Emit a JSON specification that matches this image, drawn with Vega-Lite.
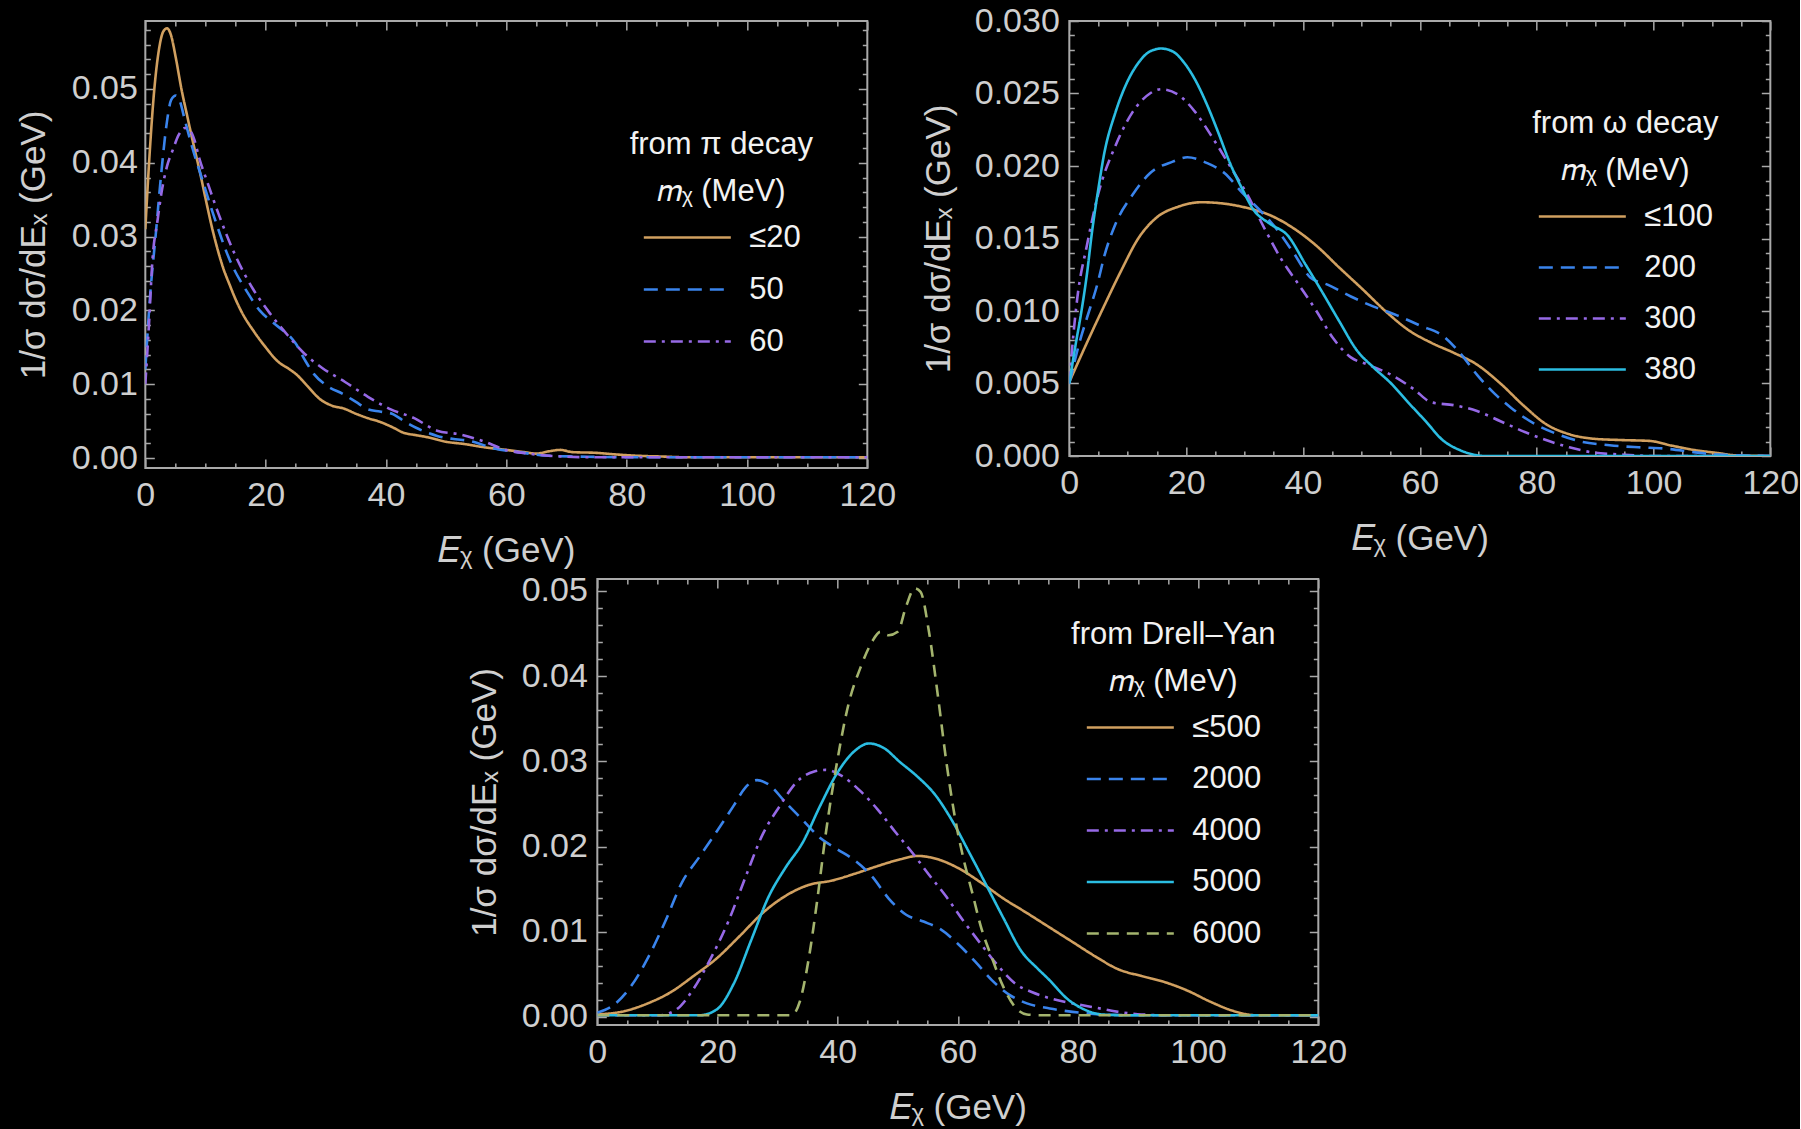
{
  "$schema": "https://vega.github.io/schema/vega-lite/v6.json",
  "background": "black",
  "padding": {"left": 15, "top": 3, "right": 0, "bottom": 12},
  "datasets": {
    "pi": [
      {"E":0,"v":0.031,"m":"≤20"},{"E":0.7,"v":0.041,"m":"≤20"},{"E":1.5,"v":0.05,"m":"≤20"},{"E":2.3,"v":0.0555,"m":"≤20"},{"E":3,"v":0.0578,"m":"≤20"},{"E":3.6,"v":0.0582,"m":"≤20"},{"E":4.3,"v":0.0572,"m":"≤20"},{"E":5,"v":0.0545,"m":"≤20"},{"E":6,"v":0.05,"m":"≤20"},{"E":7,"v":0.0462,"m":"≤20"},{"E":8,"v":0.0425,"m":"≤20"},{"E":9,"v":0.039,"m":"≤20"},{"E":10,"v":0.0352,"m":"≤20"},{"E":11,"v":0.0315,"m":"≤20"},{"E":12,"v":0.0283,"m":"≤20"},{"E":13,"v":0.0256,"m":"≤20"},{"E":14,"v":0.0235,"m":"≤20"},{"E":15,"v":0.0215,"m":"≤20"},{"E":16,"v":0.0198,"m":"≤20"},{"E":18,"v":0.0172,"m":"≤20"},{"E":20,"v":0.015,"m":"≤20"},{"E":22,"v":0.0131,"m":"≤20"},{"E":24,"v":0.012,"m":"≤20"},{"E":25,"v":0.0114,"m":"≤20"},{"E":27,"v":0.0097,"m":"≤20"},{"E":29,"v":0.008,"m":"≤20"},{"E":31,"v":0.0071,"m":"≤20"},{"E":33,"v":0.0067,"m":"≤20"},{"E":35,"v":0.006,"m":"≤20"},{"E":37,"v":0.0054,"m":"≤20"},{"E":39,"v":0.0049,"m":"≤20"},{"E":41,"v":0.0042,"m":"≤20"},{"E":43,"v":0.0034,"m":"≤20"},{"E":45,"v":0.0031,"m":"≤20"},{"E":47,"v":0.0028,"m":"≤20"},{"E":50,"v":0.0022,"m":"≤20"},{"E":53,"v":0.0019,"m":"≤20"},{"E":56,"v":0.0015,"m":"≤20"},{"E":60,"v":0.0011,"m":"≤20"},{"E":63,"v":0.0008,"m":"≤20"},{"E":65,"v":0.0006,"m":"≤20"},{"E":67,"v":0.0009,"m":"≤20"},{"E":69,"v":0.0011,"m":"≤20"},{"E":71,"v":0.0008,"m":"≤20"},{"E":75,"v":0.0007,"m":"≤20"},{"E":78,"v":0.0005,"m":"≤20"},{"E":82,"v":0.0003,"m":"≤20"},{"E":86,"v":0.0002,"m":"≤20"},{"E":90,"v":0.0001,"m":"≤20"},{"E":100,"v":0.0001,"m":"≤20"},{"E":120,"v":0.0001,"m":"≤20"},
      {"E":0,"v":0.012,"m":"50"},{"E":0.8,"v":0.022,"m":"50"},{"E":1.7,"v":0.03,"m":"50"},{"E":2.7,"v":0.039,"m":"50"},{"E":3.5,"v":0.045,"m":"50"},{"E":4.3,"v":0.0485,"m":"50"},{"E":5.1,"v":0.0491,"m":"50"},{"E":5.8,"v":0.0482,"m":"50"},{"E":6.5,"v":0.046,"m":"50"},{"E":7.9,"v":0.0418,"m":"50"},{"E":9.4,"v":0.0379,"m":"50"},{"E":11.3,"v":0.033,"m":"50"},{"E":14.1,"v":0.0267,"m":"50"},{"E":17,"v":0.0224,"m":"50"},{"E":19,"v":0.02,"m":"50"},{"E":21,"v":0.0185,"m":"50"},{"E":23,"v":0.0172,"m":"50"},{"E":24,"v":0.0165,"m":"50"},{"E":25,"v":0.0155,"m":"50"},{"E":26.5,"v":0.0133,"m":"50"},{"E":28,"v":0.0114,"m":"50"},{"E":30,"v":0.0099,"m":"50"},{"E":33,"v":0.0086,"m":"50"},{"E":35,"v":0.0076,"m":"50"},{"E":37,"v":0.0066,"m":"50"},{"E":39,"v":0.0063,"m":"50"},{"E":41,"v":0.006,"m":"50"},{"E":43,"v":0.005,"m":"50"},{"E":45,"v":0.0041,"m":"50"},{"E":48.5,"v":0.003,"m":"50"},{"E":51,"v":0.0026,"m":"50"},{"E":54,"v":0.0023,"m":"50"},{"E":58,"v":0.0013,"m":"50"},{"E":62,"v":0.0008,"m":"50"},{"E":67,"v":0.0003,"m":"50"},{"E":72,"v":0.0002,"m":"50"},{"E":80,"v":0.0001,"m":"50"},{"E":120,"v":0.0001,"m":"50"},
      {"E":0,"v":0.01,"m":"60"},{"E":0.6,"v":0.018,"m":"60"},{"E":1.2,"v":0.027,"m":"60"},{"E":2,"v":0.032,"m":"60"},{"E":2.7,"v":0.036,"m":"60"},{"E":3.6,"v":0.0395,"m":"60"},{"E":4.6,"v":0.0418,"m":"60"},{"E":5.5,"v":0.0437,"m":"60"},{"E":6.5,"v":0.0447,"m":"60"},{"E":7.4,"v":0.0444,"m":"60"},{"E":8.2,"v":0.043,"m":"60"},{"E":8.9,"v":0.0408,"m":"60"},{"E":10.3,"v":0.0374,"m":"60"},{"E":12.2,"v":0.033,"m":"60"},{"E":15.1,"v":0.0272,"m":"60"},{"E":17.9,"v":0.0229,"m":"60"},{"E":20.8,"v":0.0195,"m":"60"},{"E":23.7,"v":0.0166,"m":"60"},{"E":26.5,"v":0.0141,"m":"60"},{"E":29.4,"v":0.0122,"m":"60"},{"E":33.2,"v":0.0103,"m":"60"},{"E":37,"v":0.0083,"m":"60"},{"E":40.8,"v":0.0066,"m":"60"},{"E":44.7,"v":0.0054,"m":"60"},{"E":48.5,"v":0.0037,"m":"60"},{"E":52.3,"v":0.0032,"m":"60"},{"E":56.1,"v":0.0023,"m":"60"},{"E":59.9,"v":0.0011,"m":"60"},{"E":63.7,"v":0.0006,"m":"60"},{"E":69.5,"v":0.0002,"m":"60"},{"E":75,"v":0.0001,"m":"60"},{"E":120,"v":0.0001,"m":"60"}
    ],
    "omega": [
      {"E":0,"v":0.0051,"m":"≤100"},{"E":3,"v":0.0078,"m":"≤100"},{"E":5.9,"v":0.0103,"m":"≤100"},{"E":8.9,"v":0.0128,"m":"≤100"},{"E":11.8,"v":0.015,"m":"≤100"},{"E":14.8,"v":0.0164,"m":"≤100"},{"E":18.7,"v":0.0172,"m":"≤100"},{"E":22.6,"v":0.0175,"m":"≤100"},{"E":26.6,"v":0.0174,"m":"≤100"},{"E":30.5,"v":0.0171,"m":"≤100"},{"E":34.4,"v":0.0166,"m":"≤100"},{"E":38.4,"v":0.0157,"m":"≤100"},{"E":42.3,"v":0.0145,"m":"≤100"},{"E":46.2,"v":0.013,"m":"≤100"},{"E":50.2,"v":0.0115,"m":"≤100"},{"E":54.1,"v":0.01,"m":"≤100"},{"E":58,"v":0.0087,"m":"≤100"},{"E":62,"v":0.0078,"m":"≤100"},{"E":65.9,"v":0.0071,"m":"≤100"},{"E":69.8,"v":0.0063,"m":"≤100"},{"E":73.8,"v":0.005,"m":"≤100"},{"E":77.7,"v":0.0035,"m":"≤100"},{"E":81.6,"v":0.0022,"m":"≤100"},{"E":85.6,"v":0.0015,"m":"≤100"},{"E":89.5,"v":0.0012,"m":"≤100"},{"E":94.4,"v":0.0011,"m":"≤100"},{"E":99.3,"v":0.00104,"m":"≤100"},{"E":103.3,"v":0.0007,"m":"≤100"},{"E":107.2,"v":0.0004,"m":"≤100"},{"E":111.1,"v":0.0002,"m":"≤100"},{"E":114,"v":0.00005,"m":"≤100"},{"E":120,"v":0,"m":"≤100"},
      {"E":0,"v":0.005,"m":"200"},{"E":2,"v":0.0082,"m":"200"},{"E":3,"v":0.0095,"m":"200"},{"E":4.9,"v":0.012,"m":"200"},{"E":6,"v":0.0138,"m":"200"},{"E":7.9,"v":0.016,"m":"200"},{"E":10.8,"v":0.018,"m":"200"},{"E":13.8,"v":0.0195,"m":"200"},{"E":17.7,"v":0.0203,"m":"200"},{"E":20.2,"v":0.0206,"m":"200"},{"E":23.6,"v":0.0202,"m":"200"},{"E":26.6,"v":0.0195,"m":"200"},{"E":29.5,"v":0.0182,"m":"200"},{"E":32.5,"v":0.017,"m":"200"},{"E":35.4,"v":0.0157,"m":"200"},{"E":38.4,"v":0.014,"m":"200"},{"E":41.3,"v":0.0123,"m":"200"},{"E":44.3,"v":0.0118,"m":"200"},{"E":48.2,"v":0.011,"m":"200"},{"E":52.1,"v":0.0103,"m":"200"},{"E":56.1,"v":0.0097,"m":"200"},{"E":60,"v":0.009,"m":"200"},{"E":63.9,"v":0.0083,"m":"200"},{"E":66.9,"v":0.0071,"m":"200"},{"E":69.8,"v":0.0056,"m":"200"},{"E":72.8,"v":0.0043,"m":"200"},{"E":75.7,"v":0.0033,"m":"200"},{"E":79.7,"v":0.0022,"m":"200"},{"E":83.6,"v":0.0015,"m":"200"},{"E":87.5,"v":0.001,"m":"200"},{"E":92.5,"v":0.00074,"m":"200"},{"E":97.4,"v":0.0006,"m":"200"},{"E":102.3,"v":0.0005,"m":"200"},{"E":107.2,"v":0.00025,"m":"200"},{"E":111,"v":0.0001,"m":"200"},{"E":120,"v":0,"m":"200"},
      {"E":0,"v":0.005,"m":"300"},{"E":0.5,"v":0.0075,"m":"300"},{"E":1.4,"v":0.011,"m":"300"},{"E":3,"v":0.0145,"m":"300"},{"E":4.9,"v":0.018,"m":"300"},{"E":7.9,"v":0.0214,"m":"300"},{"E":10.8,"v":0.0237,"m":"300"},{"E":13.8,"v":0.025,"m":"300"},{"E":15.7,"v":0.0253,"m":"300"},{"E":18.7,"v":0.0249,"m":"300"},{"E":21.6,"v":0.0237,"m":"300"},{"E":24.6,"v":0.0219,"m":"300"},{"E":27.5,"v":0.02,"m":"300"},{"E":30.5,"v":0.018,"m":"300"},{"E":33.4,"v":0.0157,"m":"300"},{"E":36.4,"v":0.0135,"m":"300"},{"E":39.3,"v":0.0118,"m":"300"},{"E":42.3,"v":0.01,"m":"300"},{"E":45.2,"v":0.0081,"m":"300"},{"E":48.2,"v":0.0068,"m":"300"},{"E":51.1,"v":0.0063,"m":"300"},{"E":55.1,"v":0.0056,"m":"300"},{"E":59,"v":0.0046,"m":"300"},{"E":62,"v":0.0037,"m":"300"},{"E":65.9,"v":0.0035,"m":"300"},{"E":69.8,"v":0.0031,"m":"300"},{"E":73.8,"v":0.0024,"m":"300"},{"E":77.7,"v":0.0017,"m":"300"},{"E":81.6,"v":0.0011,"m":"300"},{"E":85.6,"v":0.0006,"m":"300"},{"E":89.5,"v":0.00025,"m":"300"},{"E":94.4,"v":0.0001,"m":"300"},{"E":100,"v":0,"m":"300"},{"E":120,"v":0,"m":"300"},
      {"E":0,"v":0.005,"m":"380"},{"E":1,"v":0.0075,"m":"380"},{"E":2,"v":0.0098,"m":"380"},{"E":3,"v":0.0125,"m":"380"},{"E":3.9,"v":0.0155,"m":"380"},{"E":5,"v":0.0185,"m":"380"},{"E":5.9,"v":0.0207,"m":"380"},{"E":7.9,"v":0.0237,"m":"380"},{"E":9.8,"v":0.0257,"m":"380"},{"E":11.8,"v":0.0271,"m":"380"},{"E":13.8,"v":0.0279,"m":"380"},{"E":15.7,"v":0.0281,"m":"380"},{"E":17.7,"v":0.0279,"m":"380"},{"E":19.7,"v":0.0271,"m":"380"},{"E":21.6,"v":0.0259,"m":"380"},{"E":23.6,"v":0.0242,"m":"380"},{"E":25.6,"v":0.0222,"m":"380"},{"E":27.5,"v":0.0202,"m":"380"},{"E":29.5,"v":0.0185,"m":"380"},{"E":31.5,"v":0.017,"m":"380"},{"E":34.4,"v":0.016,"m":"380"},{"E":37.4,"v":0.0152,"m":"380"},{"E":40.3,"v":0.0133,"m":"380"},{"E":43.3,"v":0.0113,"m":"380"},{"E":46.2,"v":0.0093,"m":"380"},{"E":49.2,"v":0.0073,"m":"380"},{"E":52.1,"v":0.0061,"m":"380"},{"E":55.1,"v":0.005,"m":"380"},{"E":58,"v":0.0037,"m":"380"},{"E":61,"v":0.0024,"m":"380"},{"E":63.9,"v":0.0011,"m":"380"},{"E":66.9,"v":0.0004,"m":"380"},{"E":69.8,"v":0.00005,"m":"380"},{"E":71,"v":0,"m":"380"},{"E":120,"v":0,"m":"380"}
    ],
    "dy": [
      {"E":0,"v":0.0003,"m":"≤500"},{"E":4.6,"v":0.0007,"m":"≤500"},{"E":8.4,"v":0.0016,"m":"≤500"},{"E":12.2,"v":0.0029,"m":"≤500"},{"E":16,"v":0.0048,"m":"≤500"},{"E":19.9,"v":0.0069,"m":"≤500"},{"E":23.7,"v":0.0095,"m":"≤500"},{"E":27.5,"v":0.0122,"m":"≤500"},{"E":31.3,"v":0.0142,"m":"≤500"},{"E":35.2,"v":0.0155,"m":"≤500"},{"E":39,"v":0.016,"m":"≤500"},{"E":42.8,"v":0.0168,"m":"≤500"},{"E":46.6,"v":0.0177,"m":"≤500"},{"E":50.4,"v":0.0185,"m":"≤500"},{"E":53.3,"v":0.0189,"m":"≤500"},{"E":56.2,"v":0.0186,"m":"≤500"},{"E":60,"v":0.0175,"m":"≤500"},{"E":63.8,"v":0.0158,"m":"≤500"},{"E":67.6,"v":0.0139,"m":"≤500"},{"E":71.5,"v":0.0122,"m":"≤500"},{"E":75.3,"v":0.0105,"m":"≤500"},{"E":79.1,"v":0.0088,"m":"≤500"},{"E":82.9,"v":0.0071,"m":"≤500"},{"E":86.7,"v":0.0056,"m":"≤500"},{"E":90.6,"v":0.0048,"m":"≤500"},{"E":94.4,"v":0.0041,"m":"≤500"},{"E":98.2,"v":0.0031,"m":"≤500"},{"E":102,"v":0.0018,"m":"≤500"},{"E":105.9,"v":0.0007,"m":"≤500"},{"E":109.7,"v":0.0002,"m":"≤500"},{"E":120,"v":0.0002,"m":"≤500"},
      {"E":0,"v":0.0005,"m":"2000"},{"E":2.7,"v":0.0014,"m":"2000"},{"E":5.5,"v":0.0035,"m":"2000"},{"E":8.4,"v":0.0069,"m":"2000"},{"E":11.3,"v":0.0112,"m":"2000"},{"E":14.1,"v":0.0158,"m":"2000"},{"E":17,"v":0.0188,"m":"2000"},{"E":19.9,"v":0.0218,"m":"2000"},{"E":22.7,"v":0.0248,"m":"2000"},{"E":24.6,"v":0.0269,"m":"2000"},{"E":26.6,"v":0.0278,"m":"2000"},{"E":28.5,"v":0.0273,"m":"2000"},{"E":31.3,"v":0.0252,"m":"2000"},{"E":34.2,"v":0.0231,"m":"2000"},{"E":37.1,"v":0.021,"m":"2000"},{"E":39.9,"v":0.0197,"m":"2000"},{"E":42.8,"v":0.0184,"m":"2000"},{"E":45.7,"v":0.0165,"m":"2000"},{"E":48.5,"v":0.0139,"m":"2000"},{"E":51.4,"v":0.012,"m":"2000"},{"E":54.3,"v":0.0112,"m":"2000"},{"E":57.1,"v":0.0103,"m":"2000"},{"E":60,"v":0.0086,"m":"2000"},{"E":62.9,"v":0.0065,"m":"2000"},{"E":65.7,"v":0.0043,"m":"2000"},{"E":68.6,"v":0.0026,"m":"2000"},{"E":71.5,"v":0.0016,"m":"2000"},{"E":75.3,"v":0.001,"m":"2000"},{"E":79.1,"v":0.0006,"m":"2000"},{"E":83.9,"v":0.0003,"m":"2000"},{"E":90,"v":0.0002,"m":"2000"},{"E":120,"v":0.0002,"m":"2000"},
      {"E":0,"v":0.0002,"m":"4000"},{"E":10.3,"v":0.0002,"m":"4000"},{"E":13.2,"v":0.0009,"m":"4000"},{"E":16,"v":0.0033,"m":"4000"},{"E":18.9,"v":0.0069,"m":"4000"},{"E":21.8,"v":0.0112,"m":"4000"},{"E":24.6,"v":0.0163,"m":"4000"},{"E":27.5,"v":0.0214,"m":"4000"},{"E":30.4,"v":0.0248,"m":"4000"},{"E":33.2,"v":0.0276,"m":"4000"},{"E":36.1,"v":0.0288,"m":"4000"},{"E":38,"v":0.029,"m":"4000"},{"E":40.9,"v":0.0282,"m":"4000"},{"E":43.8,"v":0.0265,"m":"4000"},{"E":46.6,"v":0.0244,"m":"4000"},{"E":49.5,"v":0.0218,"m":"4000"},{"E":52.4,"v":0.0193,"m":"4000"},{"E":55.2,"v":0.0167,"m":"4000"},{"E":58.1,"v":0.0141,"m":"4000"},{"E":61,"v":0.0112,"m":"4000"},{"E":63.8,"v":0.0086,"m":"4000"},{"E":66.7,"v":0.006,"m":"4000"},{"E":69.6,"v":0.0039,"m":"4000"},{"E":72.4,"v":0.0029,"m":"4000"},{"E":75.3,"v":0.0022,"m":"4000"},{"E":79.1,"v":0.0016,"m":"4000"},{"E":82.9,"v":0.0011,"m":"4000"},{"E":86.7,"v":0.0006,"m":"4000"},{"E":90.6,"v":0.0003,"m":"4000"},{"E":95,"v":0.0002,"m":"4000"},{"E":120,"v":0.0002,"m":"4000"},
      {"E":0,"v":0.0002,"m":"5000"},{"E":17,"v":0.0002,"m":"5000"},{"E":19.9,"v":0.0009,"m":"5000"},{"E":22.7,"v":0.0039,"m":"5000"},{"E":25.6,"v":0.009,"m":"5000"},{"E":28.5,"v":0.0141,"m":"5000"},{"E":31.3,"v":0.0175,"m":"5000"},{"E":34.2,"v":0.0205,"m":"5000"},{"E":37.1,"v":0.0248,"m":"5000"},{"E":39.9,"v":0.0286,"m":"5000"},{"E":42.8,"v":0.0312,"m":"5000"},{"E":45.2,"v":0.0321,"m":"5000"},{"E":47.6,"v":0.0316,"m":"5000"},{"E":50.4,"v":0.0299,"m":"5000"},{"E":53.3,"v":0.0282,"m":"5000"},{"E":56.2,"v":0.0261,"m":"5000"},{"E":59,"v":0.0231,"m":"5000"},{"E":61.9,"v":0.0193,"m":"5000"},{"E":64.8,"v":0.0154,"m":"5000"},{"E":67.6,"v":0.0116,"m":"5000"},{"E":70.5,"v":0.0078,"m":"5000"},{"E":73.4,"v":0.0056,"m":"5000"},{"E":75.3,"v":0.0043,"m":"5000"},{"E":78.1,"v":0.0022,"m":"5000"},{"E":81,"v":0.0009,"m":"5000"},{"E":83.9,"v":0.0003,"m":"5000"},{"E":88,"v":0.0002,"m":"5000"},{"E":120,"v":0.0002,"m":"5000"},
      {"E":0,"v":0.0002,"m":"6000"},{"E":32.3,"v":0.0002,"m":"6000"},{"E":33.7,"v":0.0018,"m":"6000"},{"E":35.2,"v":0.0069,"m":"6000"},{"E":36.6,"v":0.0137,"m":"6000"},{"E":38,"v":0.0214,"m":"6000"},{"E":39.9,"v":0.0299,"m":"6000"},{"E":41.8,"v":0.0367,"m":"6000"},{"E":43.8,"v":0.041,"m":"6000"},{"E":45.7,"v":0.044,"m":"6000"},{"E":47.1,"v":0.0452,"m":"6000"},{"E":48.5,"v":0.0448,"m":"6000"},{"E":50,"v":0.0452,"m":"6000"},{"E":51.4,"v":0.0482,"m":"6000"},{"E":52.8,"v":0.0503,"m":"6000"},{"E":53.8,"v":0.0499,"m":"6000"},{"E":55.2,"v":0.0452,"m":"6000"},{"E":56.7,"v":0.0376,"m":"6000"},{"E":58.1,"v":0.0299,"m":"6000"},{"E":59.5,"v":0.0235,"m":"6000"},{"E":61,"v":0.0184,"m":"6000"},{"E":62.4,"v":0.0146,"m":"6000"},{"E":63.8,"v":0.0107,"m":"6000"},{"E":65.7,"v":0.0069,"m":"6000"},{"E":67.6,"v":0.0035,"m":"6000"},{"E":69.6,"v":0.0011,"m":"6000"},{"E":71.5,"v":0.0003,"m":"6000"},{"E":74,"v":0.0002,"m":"6000"},{"E":120,"v":0.0002,"m":"6000"}
    ]
  },
  "vconcat": [
    {
      "hconcat": [
        {
          "width": 722, "height": 447,
          "data": {"name": "pi"},
          "layer": [
            {
              "mark": {"type": "line", "interpolate": "monotone", "strokeWidth": 2.6, "clip": true},
              "encoding": {
                "x": {"field": "E", "type": "quantitative", "scale": {"domain": [0, 120]},
                  "axis": {"orient": "bottom", "values": [0,5,10,15,20,25,30,35,40,45,50,55,60,65,70,75,80,85,90,95,100,105,110,115,120],
                    "labelExpr": "datum.value % 20 === 0 ? datum.label : ''",
                    "tickSize": {"condition": {"test": "datum.value % 20 === 0", "value": -9}, "value": -5},
                    "labelPadding": 19, "labelFlush": false, "title": "𝐸ᵪ (GeV)", "titlePadding": 17}},
                "y": {"field": "v", "type": "quantitative", "scale": {"domain": [-0.00135, 0.0592], "nice": false, "zero": false},
                  "axis": {"orient": "left", "values": [0,0.002,0.004,0.006,0.008,0.01,0.012,0.014,0.016,0.018,0.02,0.022,0.024,0.026,0.028,0.03,0.032,0.034,0.036,0.038,0.04,0.042,0.044,0.046,0.048,0.05,0.052,0.054,0.056,0.058],
                    "labelExpr": "abs(datum.value*100 - round(datum.value*100)) < 1e-6 ? format(datum.value, '.2f') : ''",
                    "tickSize": {"condition": {"test": "abs(datum.value*100 - round(datum.value*100)) < 1e-6", "value": -9}, "value": -5},
                    "labelPadding": 17, "title": "1/σ dσ/dEₓ (GeV)", "titlePadding": 20}},
                "color": {"field": "m", "type": "nominal", "scale": {"domain": ["≤20", "50", "60"], "range": ["#D1A060", "#3A84EC", "#9669E6"]},
                  "legend": {"orient": "none", "legendX": 484, "legendY": 109, "padding": 0,
                    "title": ["from π decay", "𝑚ᵪ (MeV)"], "titleFont": "Liberation Sans", "titleFontSize": 31, "titleFontWeight": "normal", "titleColor": "#f2f2f2", "titleLimit": 600,
                    "titleAnchor": "middle", "titleAlign": "center", "titleLineHeight": 46.5, "titlePadding": 14,
                    "labelFont": "Liberation Sans", "labelFontSize": 31, "labelColor": "#f2f2f2",
                    "symbolType": "M-1,0H5", "symbolSize": 841, "symbolStrokeWidth": 2.6, "labelOffset": 75, "rowPadding": 21}},
                "strokeDash": {"field": "m", "type": "nominal", "scale": {"domain": ["≤20", "50", "60"], "range": [[1, 0], [14, 8], [12, 6, 3, 6]]},
                  "legend": {"orient": "none", "legendX": 484, "legendY": 109, "padding": 0,
                    "title": ["from π decay", "𝑚ᵪ (MeV)"], "titleFont": "Liberation Sans", "titleFontSize": 31, "titleFontWeight": "normal", "titleColor": "#f2f2f2", "titleLimit": 600,
                    "titleAnchor": "middle", "titleAlign": "center", "titleLineHeight": 46.5, "titlePadding": 14,
                    "labelFont": "Liberation Sans", "labelFontSize": 31, "labelColor": "#f2f2f2",
                    "symbolType": "M-1,0H5", "symbolSize": 841, "symbolStrokeWidth": 2.6, "labelOffset": 75, "rowPadding": 21}}
              }
            },
            {
              "mark": {"type": "line", "opacity": 0},
              "encoding": {
                "x": {"field": "E", "type": "quantitative",
                  "axis": {"orient": "top", "values": [0,5,10,15,20,25,30,35,40,45,50,55,60,65,70,75,80,85,90,95,100,105,110,115,120], "labels": false, "title": null,
                    "tickSize": {"condition": {"test": "datum.value % 20 === 0", "value": -9}, "value": -5}}},
                "y": {"field": "v", "type": "quantitative",
                  "axis": {"orient": "right", "values": [0,0.002,0.004,0.006,0.008,0.01,0.012,0.014,0.016,0.018,0.02,0.022,0.024,0.026,0.028,0.03,0.032,0.034,0.036,0.038,0.04,0.042,0.044,0.046,0.048,0.05,0.052,0.054,0.056,0.058], "labels": false, "title": null,
                    "tickSize": {"condition": {"test": "abs(datum.value*100 - round(datum.value*100)) < 1e-6", "value": -9}, "value": -5}}},
                "detail": {"field": "m"}
              }
            }
          ],
          "resolve": {"axis": {"x": "independent", "y": "independent"}}
        },
        {
          "width": 701, "height": 435,
          "data": {"name": "omega"},
          "layer": [
            {
              "mark": {"type": "line", "interpolate": "monotone", "strokeWidth": 2.6, "clip": true},
              "encoding": {
                "x": {"field": "E", "type": "quantitative", "scale": {"domain": [0, 120]},
                  "axis": {"orient": "bottom", "values": [0,5,10,15,20,25,30,35,40,45,50,55,60,65,70,75,80,85,90,95,100,105,110,115,120],
                    "labelExpr": "datum.value % 20 === 0 ? datum.label : ''",
                    "tickSize": {"condition": {"test": "datum.value % 20 === 0", "value": -9}, "value": -5},
                    "labelPadding": 19, "labelFlush": false, "title": "𝐸ᵪ (GeV)", "titlePadding": 17}},
                "y": {"field": "v", "type": "quantitative", "scale": {"domain": [0, 0.03], "nice": false},
                  "axis": {"orient": "left", "values": [0,0.001,0.002,0.003,0.004,0.005,0.006,0.007,0.008,0.009,0.01,0.011,0.012,0.013,0.014,0.015,0.016,0.017,0.018,0.019,0.02,0.021,0.022,0.023,0.024,0.025,0.026,0.027,0.028,0.029,0.03],
                    "labelExpr": "abs(datum.value*200 - round(datum.value*200)) < 1e-6 ? format(datum.value, '.3f') : ''",
                    "tickSize": {"condition": {"test": "abs(datum.value*200 - round(datum.value*200)) < 1e-6", "value": -9}, "value": -5},
                    "labelPadding": 19, "title": "1/σ dσ/dEₓ (GeV)", "titlePadding": 18}},
                "color": {"field": "m", "type": "nominal", "scale": {"domain": ["≤100", "200", "300", "380"], "range": ["#D1A060", "#3A84EC", "#9669E6", "#2BBDE2"]},
                  "legend": {"orient": "none", "legendX": 463, "legendY": 88, "padding": 0,
                    "title": ["from ω decay", "𝑚ᵪ (MeV)"], "titleFont": "Liberation Sans", "titleFontSize": 31, "titleFontWeight": "normal", "titleColor": "#f2f2f2", "titleLimit": 600,
                    "titleAnchor": "middle", "titleAlign": "center", "titleLineHeight": 46.5, "titlePadding": 14,
                    "labelFont": "Liberation Sans", "labelFontSize": 31, "labelColor": "#f2f2f2",
                    "symbolType": "M-1,0H5", "symbolSize": 841, "symbolStrokeWidth": 2.6, "labelOffset": 75, "rowPadding": 20}},
                "strokeDash": {"field": "m", "type": "nominal", "scale": {"domain": ["≤100", "200", "300", "380"], "range": [[1, 0], [14, 8], [12, 6, 3, 6], [1, 0]]},
                  "legend": {"orient": "none", "legendX": 463, "legendY": 88, "padding": 0,
                    "title": ["from ω decay", "𝑚ᵪ (MeV)"], "titleFont": "Liberation Sans", "titleFontSize": 31, "titleFontWeight": "normal", "titleColor": "#f2f2f2", "titleLimit": 600,
                    "titleAnchor": "middle", "titleAlign": "center", "titleLineHeight": 46.5, "titlePadding": 14,
                    "labelFont": "Liberation Sans", "labelFontSize": 31, "labelColor": "#f2f2f2",
                    "symbolType": "M-1,0H5", "symbolSize": 841, "symbolStrokeWidth": 2.6, "labelOffset": 75, "rowPadding": 20}}
              }
            },
            {
              "mark": {"type": "line", "opacity": 0},
              "encoding": {
                "x": {"field": "E", "type": "quantitative",
                  "axis": {"orient": "top", "values": [0,5,10,15,20,25,30,35,40,45,50,55,60,65,70,75,80,85,90,95,100,105,110,115,120], "labels": false, "title": null,
                    "tickSize": {"condition": {"test": "datum.value % 20 === 0", "value": -9}, "value": -5}}},
                "y": {"field": "v", "type": "quantitative",
                  "axis": {"orient": "right", "values": [0,0.001,0.002,0.003,0.004,0.005,0.006,0.007,0.008,0.009,0.01,0.011,0.012,0.013,0.014,0.015,0.016,0.017,0.018,0.019,0.02,0.021,0.022,0.023,0.024,0.025,0.026,0.027,0.028,0.029,0.03], "labels": false, "title": null,
                    "tickSize": {"condition": {"test": "abs(datum.value*200 - round(datum.value*200)) < 1e-6", "value": -9}, "value": -5}}},
                "detail": {"field": "m"}
              }
            }
          ],
          "resolve": {"axis": {"x": "independent", "y": "independent"}}
        }
      ],
      "spacing": 22,
      "resolve": {"scale": {"color": "independent", "strokeDash": "independent"}}
    },
    {
      "width": 721, "height": 446,
      "data": {"name": "dy"},
      "layer": [
        {
          "mark": {"type": "line", "interpolate": "monotone", "strokeWidth": 2.6, "clip": true},
          "encoding": {
            "x": {"field": "E", "type": "quantitative", "scale": {"domain": [0, 120]},
              "axis": {"orient": "bottom", "values": [0,5,10,15,20,25,30,35,40,45,50,55,60,65,70,75,80,85,90,95,100,105,110,115,120],
                "labelExpr": "datum.value % 20 === 0 ? datum.label : ''",
                "tickSize": {"condition": {"test": "datum.value % 20 === 0", "value": -9}, "value": -5},
                "labelPadding": 19, "labelFlush": false, "title": "𝐸ᵪ (GeV)", "titlePadding": 17}},
            "y": {"field": "v", "type": "quantitative", "scale": {"domain": [-0.00094, 0.0514], "nice": false, "zero": false},
              "axis": {"orient": "left", "values": [0,0.002,0.004,0.006,0.008,0.01,0.012,0.014,0.016,0.018,0.02,0.022,0.024,0.026,0.028,0.03,0.032,0.034,0.036,0.038,0.04,0.042,0.044,0.046,0.048,0.05],
                "labelExpr": "abs(datum.value*100 - round(datum.value*100)) < 1e-6 ? format(datum.value, '.2f') : ''",
                "tickSize": {"condition": {"test": "abs(datum.value*100 - round(datum.value*100)) < 1e-6", "value": -9}, "value": -5},
                "labelPadding": 19, "title": "1/σ dσ/dEₓ (GeV)", "titlePadding": 19}},
            "color": {"field": "m", "type": "nominal", "scale": {"domain": ["≤500", "2000", "4000", "5000", "6000"], "range": ["#D1A060", "#3A84EC", "#9669E6", "#2BBDE2", "#A4B46E"]},
              "legend": {"orient": "none", "legendX": 474, "legendY": 41, "padding": 0,
                "title": ["from Drell–Yan", "𝑚ᵪ (MeV)"], "titleFont": "Liberation Sans", "titleFontSize": 31, "titleFontWeight": "normal", "titleColor": "#f2f2f2", "titleLimit": 600,
                "titleAnchor": "middle", "titleAlign": "center", "titleLineHeight": 46.5, "titlePadding": 14,
                "labelFont": "Liberation Sans", "labelFontSize": 31, "labelColor": "#f2f2f2",
                "symbolType": "M-1,0H5", "symbolSize": 841, "symbolStrokeWidth": 2.6, "labelOffset": 75, "rowPadding": 20.5}},
            "strokeDash": {"field": "m", "type": "nominal", "scale": {"domain": ["≤500", "2000", "4000", "5000", "6000"], "range": [[1, 0], [14, 8], [12, 6, 3, 6], [1, 0], [12, 8]]},
              "legend": {"orient": "none", "legendX": 474, "legendY": 41, "padding": 0,
                "title": ["from Drell–Yan", "𝑚ᵪ (MeV)"], "titleFont": "Liberation Sans", "titleFontSize": 31, "titleFontWeight": "normal", "titleColor": "#f2f2f2", "titleLimit": 600,
                "titleAnchor": "middle", "titleAlign": "center", "titleLineHeight": 46.5, "titlePadding": 14,
                "labelFont": "Liberation Sans", "labelFontSize": 31, "labelColor": "#f2f2f2",
                "symbolType": "M-1,0H5", "symbolSize": 841, "symbolStrokeWidth": 2.6, "labelOffset": 75, "rowPadding": 20.5}}
          }
        },
        {
          "mark": {"type": "line", "opacity": 0},
          "encoding": {
            "x": {"field": "E", "type": "quantitative",
              "axis": {"orient": "top", "values": [0,5,10,15,20,25,30,35,40,45,50,55,60,65,70,75,80,85,90,95,100,105,110,115,120], "labels": false, "title": null,
                "tickSize": {"condition": {"test": "datum.value % 20 === 0", "value": -9}, "value": -5}}},
            "y": {"field": "v", "type": "quantitative",
              "axis": {"orient": "right", "values": [0,0.002,0.004,0.006,0.008,0.01,0.012,0.014,0.016,0.018,0.02,0.022,0.024,0.026,0.028,0.03,0.032,0.034,0.036,0.038,0.04,0.042,0.044,0.046,0.048,0.05], "labels": false, "title": null,
                "tickSize": {"condition": {"test": "abs(datum.value*100 - round(datum.value*100)) < 1e-6", "value": -9}, "value": -5}}},
            "detail": {"field": "m"}
          }
        }
      ],
      "resolve": {"axis": {"x": "independent", "y": "independent"}}
    }
  ],
  "spacing": 3,
  "center": true,
  "resolve": {"scale": {"color": "independent", "strokeDash": "independent"}},
  "config": {
    "view": {"stroke": "#a9a9a9", "strokeWidth": 2},
    "axis": {"domain": false, "grid": false, "tickColor": "#a9a9a9", "tickWidth": 1.5,
      "labelFont": "Liberation Sans", "labelFontSize": 34, "labelColor": "#cfcfcf", "labelOverlap": false, "labelBound": false,
      "titleFont": "Liberation Sans", "titleFontSize": 35, "titleFontWeight": "normal", "titleColor": "#cfcfcf"}
  }
}
